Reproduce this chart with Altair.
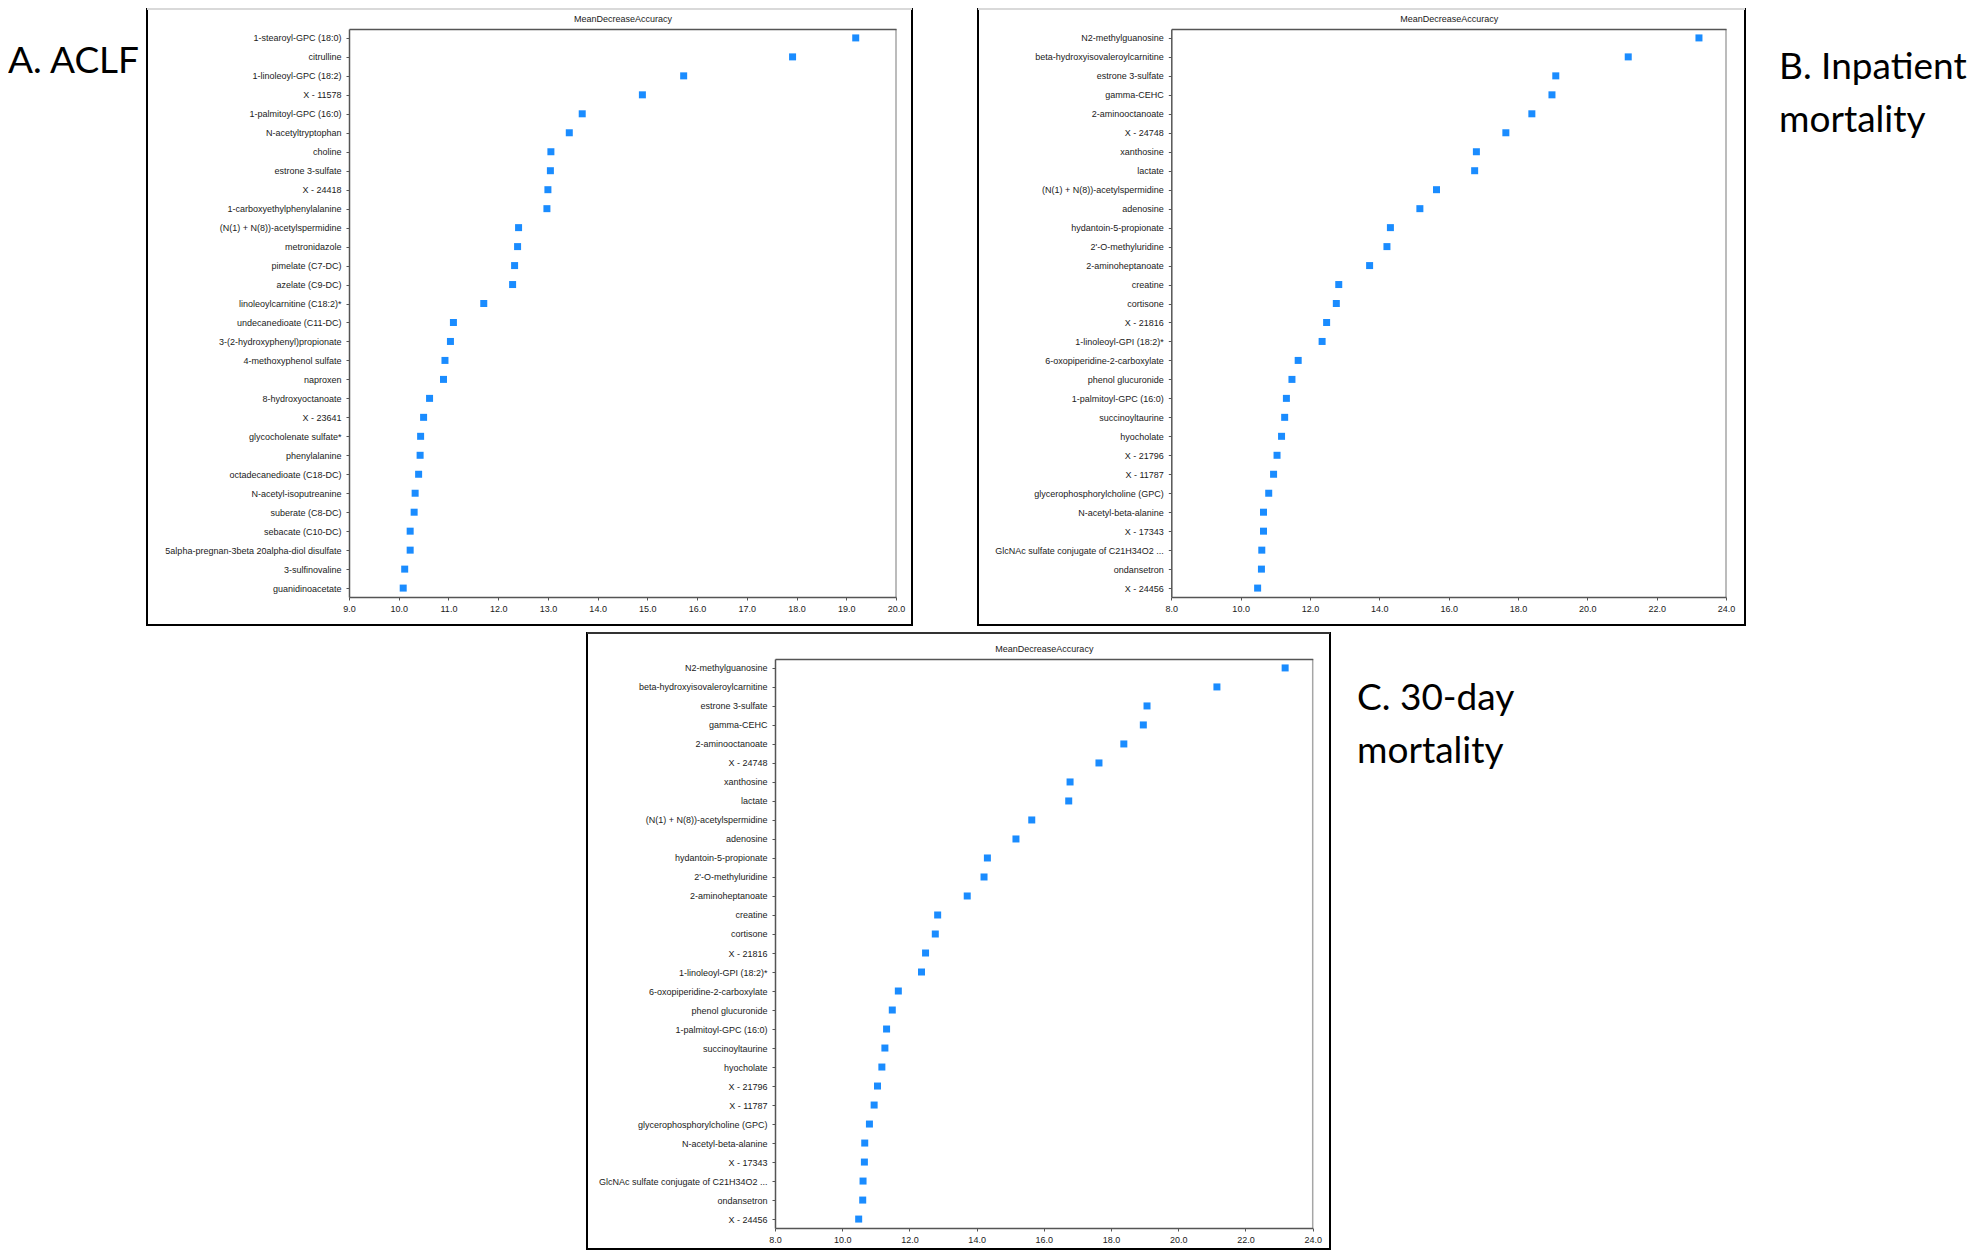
import altair as alt
import pandas as pd

W, H = 1964, 1242

# ---------------- data ----------------
a_names = ["1-stearoyl-GPC (18:0)", "citrulline", "1-linoleoyl-GPC (18:2)", "X - 11578",
           "1-palmitoyl-GPC (16:0)", "N-acetyltryptophan", "choline", "estrone 3-sulfate",
           "X - 24418", "1-carboxyethylphenylalanine", "(N(1) + N(8))-acetylspermidine",
           "metronidazole", "pimelate (C7-DC)", "azelate (C9-DC)", "linoleoylcarnitine (C18:2)*",
           "undecanedioate (C11-DC)", "3-(2-hydroxyphenyl)propionate", "4-methoxyphenol sulfate",
           "naproxen", "8-hydroxyoctanoate", "X - 23641", "glycocholenate sulfate*",
           "phenylalanine", "octadecanedioate (C18-DC)", "N-acetyl-isoputreanine",
           "suberate (C8-DC)", "sebacate (C10-DC)", "5alpha-pregnan-3beta 20alpha-diol disulfate",
           "3-sulfinovaline", "guanidinoacetate"]
a_values = [19.19, 17.92, 15.73, 14.90, 13.69, 13.43, 13.06, 13.05, 13.00, 12.98,
            12.41, 12.39, 12.33, 12.29, 11.71, 11.10, 11.04, 10.93, 10.90, 10.62,
            10.50, 10.44, 10.43, 10.40, 10.33, 10.31, 10.23, 10.23, 10.12, 10.09]

b_names = ["N2-methylguanosine", "beta-hydroxyisovaleroylcarnitine", "estrone 3-sulfate",
           "gamma-CEHC", "2-aminooctanoate", "X - 24748", "xanthosine", "lactate",
           "(N(1) + N(8))-acetylspermidine", "adenosine", "hydantoin-5-propionate",
           "2'-O-methyluridine", "2-aminoheptanoate", "creatine", "cortisone", "X - 21816",
           "1-linoleoyl-GPI (18:2)*", "6-oxopiperidine-2-carboxylate", "phenol glucuronide",
           "1-palmitoyl-GPC (16:0)", "succinoyltaurine", "hyocholate", "X - 21796", "X - 11787",
           "glycerophosphorylcholine (GPC)", "N-acetyl-beta-alanine", "X - 17343",
           "GlcNAc sulfate conjugate of C21H34O2 ...", "ondansetron", "X - 24456"]
b_values = [23.22, 21.18, 19.09, 18.98, 18.40, 17.65, 16.80, 16.75, 15.65, 15.17,
            14.32, 14.22, 13.72, 12.83, 12.76, 12.48, 12.35, 11.66, 11.48, 11.32,
            11.27, 11.18, 11.05, 10.95, 10.81, 10.66, 10.66, 10.61, 10.60, 10.49]

c_names = list(b_names)
c_values = [23.18, 21.15, 19.07, 18.96, 18.38, 17.64, 16.78, 16.74, 15.64, 15.17,
            14.32, 14.22, 13.72, 12.84, 12.77, 12.48, 12.36, 11.67, 11.49, 11.32,
            11.27, 11.18, 11.05, 10.95, 10.81, 10.67, 10.66, 10.62, 10.61, 10.49]

a_ticks = [9, 10, 11, 12, 13, 14, 15, 16, 17, 18, 19, 20]
bc_ticks = [8, 10, 12, 14, 16, 18, 20, 22, 24]
panel_title = "MeanDecreaseAccuracy"

# ---------------- style ----------------
FONT = "Liberation Sans"
BIG_FONT = "Lato"
BLUE = "#1a8cff"
DARK = "#555555"
LABEL = "#1a1a1a"

one = pd.DataFrame({"k": [0]})


def panel(names, values, xdom, xticks, xr, yr, title):
    df = pd.DataFrame({"metabolite": names, "value": values})
    xs = alt.Scale(domain=xdom, range=xr, nice=False, zero=False)
    ys = alt.Scale(type="point", domain=names, range=yr, padding=0.47)
    common = dict(labelFont=FONT, labelFontSize=9, labelColor=LABEL,
                  domainColor=DARK, domainWidth=1.5, tickColor=DARK,
                  tickWidth=1, tickSize=3, grid=False, zindex=1)
    pts = alt.Chart(df).mark_square(size=49, color=BLUE, opacity=1).encode(
        x=alt.X("value:Q", scale=xs,
                axis=alt.Axis(orient="bottom", offset=yr[1] - H, values=xticks,
                              format=".1f", title=None, labelPadding=4,
                              labelFlush=False, labelOverlap=False, **common)),
        y=alt.Y("metabolite:N", scale=ys,
                axis=alt.Axis(orient="left", offset=-xr[0], title=None,
                              labelPadding=5, labelLimit=400, **common)),
    )
    top = alt.Chart(df).mark_square(opacity=0).encode(
        x=alt.X("value:Q", scale=xs,
                axis=alt.Axis(orient="top", offset=-yr[0], labels=False, ticks=False,
                              grid=False, domainColor=DARK, domainWidth=1.5, zindex=1,
                              title=title, titleFont=FONT, titleFontSize=9,
                              titleFontWeight="normal", titleColor=LABEL,
                              titlePadding=6)),
    )
    right = alt.Chart(one).mark_rule(color="#a6a6a6", strokeWidth=1.5).encode(
        x=alt.value(xr[1]), y=alt.value(yr[0]), y2=alt.value(yr[1]))
    return [right, pts, top]


def frame(x1, x2, y1, y2, top_color):
    box = alt.Chart(one).mark_rect(fill="white", fillOpacity=0, stroke="black",
                                   strokeWidth=2).encode(
        x=alt.value(x1), x2=alt.value(x2), y=alt.value(y1), y2=alt.value(y2))
    topline = alt.Chart(one).mark_rule(color=top_color, strokeWidth=2).encode(
        x=alt.value(x1), x2=alt.value(x2), y=alt.value(y1))
    return [box, topline]


def label(lines, x, y):
    return alt.Chart(one).mark_text(text=lines, align="left", baseline="alphabetic",
                                    font=BIG_FONT, fontSize=37, lineHeight=53,
                                    color="black").encode(x=alt.value(x), y=alt.value(y))


layers = []
layers += frame(139, 904, 1, 617, "#d9d9d9")
layers += frame(970, 1737, 1, 617, "#d9d9d9")
layers += frame(579, 1322, 625, 1241, "#333333")
layers += panel(a_names, a_values, [9, 20], a_ticks, [341, 888], [21, 589], panel_title)
layers += panel(b_names, b_values, [8, 24], bc_ticks, [1163.3, 1718], [21, 589], panel_title)
layers += panel(c_names, c_values, [8, 24], bc_ticks, [767, 1304.7], [651, 1220], panel_title)
layers.append(label(["A. ACLF"], 0, 65))
layers.append(label(["B. Inpatient", "mortality"], 1771, 71))
layers.append(label(["C. 30-day", "mortality"], 1349, 702))

chart = alt.layer(*layers).resolve_scale(x="independent", y="independent").properties(
    width=W, height=H, autosize=alt.AutoSizeParams(type="none"), padding=0,
    background="white",
).configure_view(strokeWidth=0)

chart.save("out.html", embed_options={"renderer": "svg", "actions": False})
